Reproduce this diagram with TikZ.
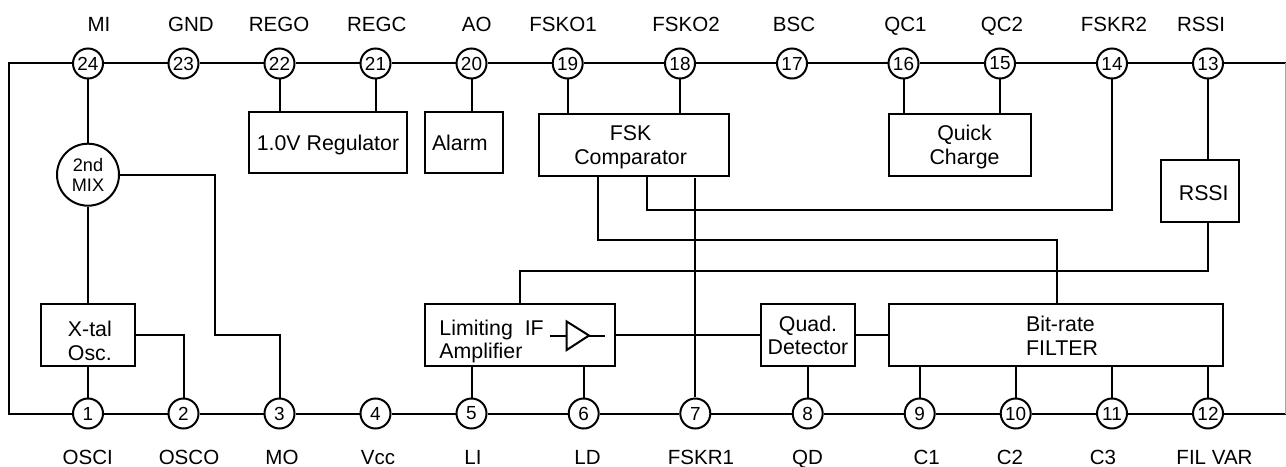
\documentclass[tikz,border=0pt]{standalone}
\usepackage{fontspec}
\setmainfont{Liberation Sans}
\usepackage{tikz}
\usetikzlibrary{positioning, calc}

\begin{document}
\begin{tikzpicture}[
    x=0.75pt, y=-0.75pt,
    wire/.style={draw, line width=1.5pt, line join=miter},
    pin/.style={circle, draw, line width=1.5pt, minimum size=22.5pt, inner sep=0pt, font=\fontsize{14.2}{14}\selectfont},
    pinname/.style={anchor=base, inner sep=0pt, font=\fontsize{15.4}{15.4}\selectfont},
    block/.style={rectangle, draw, line width=1.5pt, inner sep=0pt, align=center, font=\fontsize{16}{17.5}\selectfont},
    blocktext/.style={inner sep=0pt, align=center, font=\fontsize{16}{17.5}\selectfont},
    mixer/.style={circle, draw, line width=1.5pt, minimum size=46.5pt, inner sep=0pt, align=center, font=\fontsize{13.6}{14.7}\selectfont}
]
    \useasboundingbox (0,0) rectangle (1286,467);

    % Top pins
    \node (p24) [pin] at (88,63.5) {24};
    \node (p23) [pin] at (183.5,63.5) {23};
    \node (p22) [pin] at (279.5,63.5) {22};
    \node (p21) [pin] at (375.5,63.5) {21};
    \node (p20) [pin] at (471.5,63.5) {20};
    \node (p19) [pin] at (567.7,63.5) {19};
    \node (p18) [pin] at (680,63.5) {18};
    \node (p17) [pin] at (792,63.5) {17};
    \node (p16) [pin] at (903.5,63.5) {16};
    \node (p15) [pin] at (1000,63.5) {15};
    \node (p14) [pin] at (1112,63.5) {14};
    \node (p13) [pin] at (1208,63.5) {13};

    % Bottom pins
    \node (p1) [pin] at (88,413.5) {1};
    \node (p2) [pin] at (183.5,413.5) {2};
    \node (p3) [pin] at (279.5,413.5) {3};
    \node (p4) [pin] at (375.5,413.5) {4};
    \node (p5) [pin] at (471.5,413.5) {5};
    \node (p6) [pin] at (583.7,413.5) {6};
    \node (p7) [pin] at (695.3,413.5) {7};
    \node (p8) [pin] at (807.7,413.5) {8};
    \node (p9) [pin] at (919.7,413.5) {9};
    \node (p10) [pin] at (1015.7,413.5) {10};
    \node (p11) [pin] at (1112,413.5) {11};
    \node (p12) [pin] at (1208,413.5) {12};

    % Pin names
    \node (n24) [pinname] at (99,31.7) {MI};
    \node (n23) [pinname] at (191,31.7) {GND};
    \node (n22) [pinname] at (279,31.7) {REGO};
    \node (n21) [pinname] at (376.7,31.7) {REGC};
    \node (n20) [pinname] at (476.7,31.7) {AO};
    \node (n19) [pinname] at (563,31.7) {FSKO1};
    \node (n18) [pinname] at (686,31.7) {FSKO2};
    \node (n17) [pinname] at (794,31.7) {BSC};
    \node (n16) [pinname] at (905.5,31.7) {QC1};
    \node (n15) [pinname] at (1002,31.7) {QC2};
    \node (n14) [pinname] at (1114,31.7) {FSKR2};
    \node (n13) [pinname] at (1201,31.7) {RSSI};
    \node (n1) [pinname] at (87.7,464) {OSCI};
    \node (n2) [pinname] at (189,464) {OSCO};
    \node (n3) [pinname] at (282,464) {MO};
    \node (n4) [pinname] at (378,464) {Vcc};
    \node (n5) [pinname] at (473,464) {LI};
    \node (n6) [pinname] at (587.5,464) {LD};
    \node (n7) [pinname] at (701,464) {FSKR1};
    \node (n8) [pinname] at (807.5,464) {QD};
    \node (n9) [pinname] at (926.7,464) {C1};
    \node (n10) [pinname] at (1010,464) {C2};
    \node (n11) [pinname] at (1103,464) {C3};
    \node (n12) [pinname] at (1214.5,464) {FIL VAR};

    % Blocks
    \node (mix) [mixer] at (88,174.7) {2nd\\MIX};
    \node (xtal) [block, minimum width=70.7pt, minimum height=46.7pt, label={[blocktext, xshift=1.5pt, yshift=-4.5pt]center:X-tal\\Osc.}] at (87.85,334.85) {};
    \node (reg) [block, minimum width=118.5pt, minimum height=46pt, label={[blocktext, yshift=-2pt]center:1.0V Regulator}] at (328,142.5) {};
    \node (alarm) [block, minimum width=58.7pt, minimum height=46pt, label={[blocktext, xshift=-3pt, yshift=-0.5pt]center:Alarm}] at (463.85,142.5) {};
    \node (fskc) [block, minimum width=142.7pt, minimum height=46.3pt, label={[blocktext, xshift=-2.4pt, yshift=-1.7pt]center:FSK\\Comparator}] at (633.85,144.85) {};
    \node (quick) [block, minimum width=106.5pt, minimum height=46.3pt, label={[blocktext, xshift=3.4pt, yshift=-1.7pt]center:Quick\\Charge}] at (960,144.85) {};
    \node (rssib) [block, minimum width=58.5pt, minimum height=46.3pt, label={[blocktext, xshift=2.8pt, yshift=-1.9pt]center:RSSI}] at (1200,190.85) {};
    \node (limit) [block, minimum width=142.7pt, minimum height=46.3pt, label={[blocktext, align=left, xshift=-21.2pt, yshift=-5pt]center:Limiting\ \ IF\\Amplifier}] at (519.85,334.85) {};
    \node (quad) [block, minimum width=70.5pt, minimum height=46.3pt, label={[blocktext, yshift=-0.6pt]center:Quad.\\Detector}] at (808,334.85) {};
    \node (filter) [block, minimum width=250.5pt, minimum height=46.3pt, label={[blocktext, align=left, xshift=4.5pt, yshift=-0.7pt]center:Bit-rate\\FILTER}] at (1056,334.85) {};

    % Amplifier symbol
    \coordinate (amptop) at (566.7,321.5);
    \coordinate (ampbot) at (566.7,350);
    \coordinate (amptip) at (589,335.5);
    \coordinate (ampin) at (549.7,335.5);
    \coordinate (ampout) at (605,335.5);
    \draw [wire] (amptop) -- (amptip) -- (ampbot) -- cycle;
    \draw [wire] (ampin) -- (ampin -| amptop);
    \draw [wire] (amptip) -- (ampout);

    % Bus around the chip
    \coordinate (cornertl) at (9,63.5);
    \coordinate (cornerbl) at (9,413.5);
    \coordinate (cornertr) at (1286,63.5);
    \coordinate (cornerbr) at (1286,413.5);
    \draw [wire] (p24) -- (cornertl) -- (cornerbl) -- (p1);
    \draw [wire] (p24) -- (p23) -- (p22) -- (p21) -- (p20) -- (p19) -- (p18) -- (p17) -- (p16) -- (p15) -- (p14) -- (p13) -- (cornertr);
    \draw [wire] (p1) -- (p2) -- (p3) -- (p4) -- (p5) -- (p6) -- (p7) -- (p8) -- (p9) -- (p10) -- (p11) -- (p12) -- (cornerbr);
    \draw [line width=0.6pt, black!35] ([xshift=-0.3pt]cornertr) -- ([xshift=-0.3pt]cornerbr);

    % Mixer and oscillator
    \coordinate (mobend) at (215,334.85);
    \draw [wire] (p24) -- (mix);
    \draw [wire] (mix) -- (xtal.north -| mix);
    \draw [wire] (xtal.south -| p1) -- (p1);
    \draw [wire] (xtal.east) -| (p2);
    \draw [wire] (mix.east) -| (mobend) -| (p3);

    % Top blocks
    \draw [wire] (p22) -- (reg.north -| p22);
    \draw [wire] (p21) -- (reg.north -| p21);
    \draw [wire] (p20) -- (alarm.north -| p20);
    \draw [wire] (p19) -- (fskc.north -| p19);
    \draw [wire] (p18) -- (fskc.north -| p18);
    \draw [wire] (p16) -- (quick.north -| p16);
    \draw [wire] (p15) -- (quick.north -| p15);
    \draw [wire] (p13) -- (rssib.north -| p13);

    % Comparator routes
    \coordinate (rbend) at (647,209.5);
    \coordinate (fbend) at (598,239.5);
    \coordinate (lbend) at (519.7,270.7);
    \coordinate (fsktop) at (695.3,178);
    \draw [wire] (p14) |- (rbend) -- (rbend |- fskc.south);
    \draw [wire] (fskc.south -| fbend) -- (fbend) -| ([xshift=0.75pt]filter.north);
    \draw [wire] (rssib.south -| p13) |- (lbend) -- (lbend |- limit.north);
    \draw [wire, shorten >=0.6pt] (fsktop) -- (p7);

    % Signal path
    \draw [wire] (limit.east) -- (quad.west);
    \draw [wire] (quad.east) -- (filter.west);

    % Bottom blocks
    \draw [wire] (limit.south -| p5) -- (p5);
    \draw [wire] (limit.south -| p6) -- (p6);
    \draw [wire] (quad.south -| p8) -- (p8);
    \draw [wire] (filter.south -| p9) -- (p9);
    \draw [wire] (filter.south -| p10) -- (p10);
    \draw [wire] (filter.south -| p11) -- (p11);
    \draw [wire] (filter.south -| p12) -- (p12);

\end{tikzpicture}
\end{document}
